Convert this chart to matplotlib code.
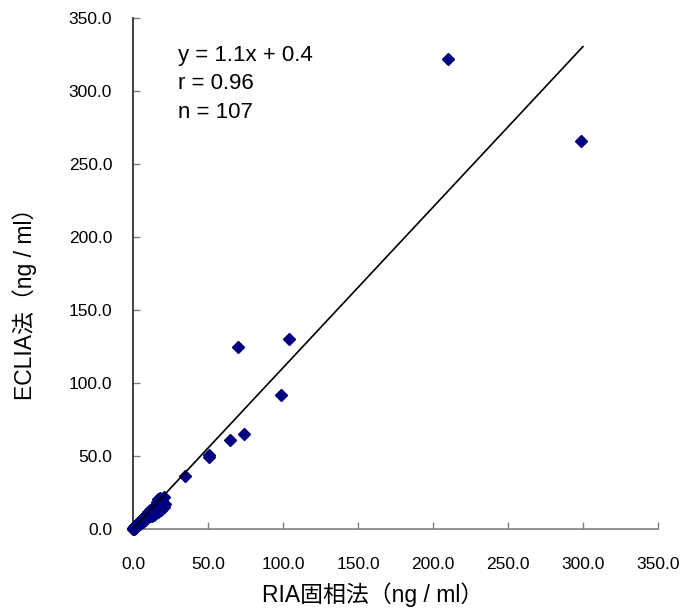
import matplotlib
matplotlib.use('Agg')
import matplotlib.pyplot as plt
import numpy as np

plt.rcParams['font.family'] = ['Liberation Sans', 'Noto Sans CJK JP', 'DejaVu Sans']

# RIA (x) vs ECLIA (y), ng/ml
ria = [210.0, 299.0, 104.0, 70.0, 99.0, 74.0, 65.0, 51.0, 50.5, 35.0,
       0.2, 0.4, 0.5, 0.6, 0.7, 0.8, 0.9, 1.0, 1.0, 1.1,
       1.2, 1.3, 1.4, 1.5, 1.6, 1.7, 1.8, 1.9, 2.0, 2.1,
       2.2, 2.4, 2.5, 2.6, 2.8, 2.9, 3.0, 3.2, 3.3, 3.5,
       3.6, 3.8, 4.0, 4.1, 4.3, 4.5, 4.7, 4.9, 5.1, 5.3,
       5.5, 5.8, 6.0, 6.2, 6.5, 6.8, 7.0, 7.3, 7.6, 7.9,
       8.2, 8.5, 8.8, 9.1, 9.4, 9.8, 10.2, 10.6, 11.0, 11.5,
       12.0, 12.6, 13.2, 14.0, 14.6, 15.3, 16.0, 16.8, 17.5, 18.2,
       19.0, 19.8, 20.5, 21.2, 17.0, 18.0, 19.5, 20.8, 16.2, 15.0,
       13.8, 12.5, 11.2, 10.0, 0.3, 0.6, 1.2, 2.2, 3.4, 4.4,
       5.6, 6.7, 8.0, 9.5, 11.8, 0.1, 0.8]
eclia = [322.0, 266.0, 130.0, 124.5, 92.0, 65.0, 61.0, 50.5, 49.0, 36.0,
         0.3, 0.5, 0.2, 0.8, 0.6, 1.1, 0.7, 1.3, 0.9, 1.5,
         1.0, 1.8, 1.2, 2.0, 1.4, 2.1, 1.6, 2.4, 1.8, 2.6,
         2.0, 2.9, 2.3, 3.1, 2.5, 3.4, 2.8, 3.7, 3.0, 4.0,
         3.3, 4.4, 3.6, 4.8, 4.0, 5.2, 4.3, 5.6, 4.7, 6.1,
         5.0, 6.6, 5.4, 7.0, 5.8, 7.5, 6.2, 8.1, 6.7, 8.6,
         7.2, 9.3, 7.8, 10.0, 8.5, 10.8, 9.0, 11.6, 9.6, 12.3,
         10.1, 8.9, 11.0, 9.8, 12.5, 10.7, 13.2, 11.6, 12.4, 14.5,
         13.0, 16.4, 15.1, 17.3, 20.5, 21.4, 19.0, 22.1, 18.7, 16.0,
         14.8, 13.5, 12.8, 11.5, 1.0, 0.4, 0.6, 1.4, 2.4, 3.4,
         4.2, 5.1, 6.0, 7.2, 9.0, 0.1, 0.3]

slope = 1.1
intercept = 0.4
line_x = [0, 300]
ticks = [0, 50, 100, 150, 200, 250, 300, 350]

fig = plt.figure(figsize=(6.84, 6.10), dpi=100)
ax = fig.add_axes([0.1944, 0.1328, 0.7675, 0.8377])

lx = np.array(line_x)
ax.plot(lx, slope * lx + intercept, color='black', lw=1.2, zorder=4)
ax.plot(ria, eclia, linestyle='none', marker='D', ms=6, color='#000080',
        mec='#000080', zorder=3, clip_on=False)

ax.set_xlim(0, 350)
ax.set_ylim(0, 350)
ax.set_xticks(ticks)
ax.set_yticks(ticks)
ax.set_xticklabels(['%.1f' % t for t in ticks])
ax.set_yticklabels(['%.1f' % t for t in ticks])
ax.tick_params(direction='in', length=5, width=1, colors='#808080',
               labelcolor='black', labelsize=12.5)
ax.tick_params(axis='x', pad=20)
ax.tick_params(axis='y', pad=15)

for s in ['top', 'right']:
    ax.spines[s].set_visible(False)
ax.spines['left'].set_color('#202020')
ax.spines['bottom'].set_color('#808080')
ax.spines['left'].set_linewidth(1.2)
ax.spines['bottom'].set_linewidth(1.2)

ax.set_xlabel('RIA固相法（ng / ml）', fontsize=16.5)
ax.set_ylabel('ECLIA法（ng / ml）', fontsize=16.5)
ax.xaxis.set_label_coords(0.457, -0.104)
ax.yaxis.set_label_coords(-0.183, 0.452)

ax.text(0.086, 0.926, 'y = 1.1x + 0.4', transform=ax.transAxes,
        fontsize=16, va='center')
ax.text(0.086, 0.871, 'r = 0.96', transform=ax.transAxes,
        fontsize=16, va='center')
ax.text(0.086, 0.816, 'n = 107', transform=ax.transAxes,
        fontsize=16, va='center')

fig.savefig('out.png', dpi=100)
